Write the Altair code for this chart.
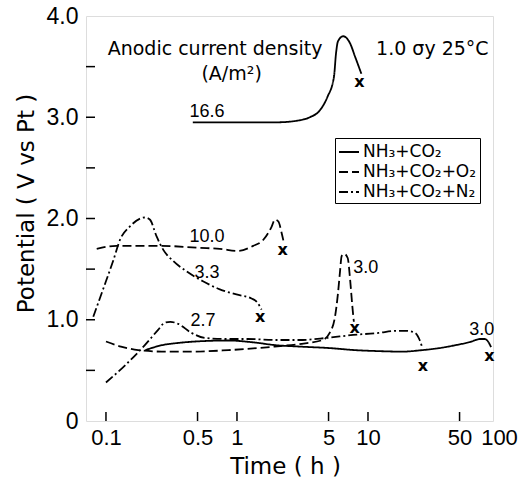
import altair as alt
import pandas as pd

# ---------------- data (time in h, potential in V vs Pt) ----------------
conds = ["NH\u2083+CO\u2082", "NH\u2083+CO\u2082+O\u2082", "NH\u2083+CO\u2082+N\u2082"]

# NH3+CO2, 16.6 A/m2
c166_t = [0.46, 1.0, 2.0, 3.0, 3.6, 4.3, 4.9, 5.5, 5.7, 5.9, 6.46, 7.3, 7.96, 8.9]
c166_v = [2.95, 2.95, 2.95, 2.97, 3.0, 3.07, 3.2, 3.40, 3.63, 3.75, 3.80, 3.73, 3.60, 3.43]

# NH3+CO2, 3.0 A/m2
c30s_t = [0.2, 0.27, 0.35, 0.48, 0.86, 1.37, 1.94, 3.0, 5.1, 8.0, 12.2, 18, 26, 35, 47, 60, 72, 78, 83, 87]
c30s_v = [0.70, 0.75, 0.77, 0.785, 0.795, 0.775, 0.75, 0.735, 0.72, 0.70, 0.69, 0.685, 0.70, 0.72, 0.75, 0.78, 0.81, 0.81, 0.78, 0.73]

# NH3+CO2+O2, 10.0 A/m2
c100_t = [0.085, 0.12, 0.26, 0.52, 0.74, 1.02, 1.33, 1.59, 1.84, 1.95, 2.07, 2.19, 2.28]
c100_v = [1.70, 1.73, 1.73, 1.71, 1.70, 1.68, 1.73, 1.79, 1.92, 1.99, 1.97, 1.86, 1.76]

# NH3+CO2+O2, 3.0 A/m2
c30o_t = [0.1, 0.13, 0.176, 0.266, 0.48, 0.86, 1.94, 3.0, 4.5, 5.1, 5.6, 5.9, 6.1, 6.3, 6.6, 7.0, 7.3, 7.6, 7.8]
c30o_v = [0.785, 0.735, 0.70, 0.686, 0.686, 0.70, 0.735, 0.76, 0.80, 0.87, 1.03, 1.26, 1.46, 1.63, 1.65, 1.61, 1.40, 1.13, 0.98]

# NH3+CO2+N2, 3.3 A/m2
c33_t = [0.08, 0.095, 0.114, 0.128, 0.152, 0.198, 0.216, 0.244, 0.274, 0.326, 0.41, 0.55, 0.74, 0.99, 1.29, 1.41, 1.54]
c33_v = [1.03, 1.30, 1.59, 1.79, 1.92, 2.01, 1.99, 1.82, 1.69, 1.58, 1.48, 1.38, 1.30, 1.25, 1.21, 1.18, 1.10]

# NH3+CO2+N2, 2.7 A/m2
c27_t = [0.1, 0.14, 0.198, 0.25, 0.28, 0.31, 0.355, 0.45, 0.57, 0.8, 1.2, 2.0, 3.0, 4.8, 7.7, 12.1, 16, 19.6, 22.9, 24.8, 25.9]
c27_v = [0.38, 0.55, 0.75, 0.90, 0.97, 0.98, 0.96, 0.87, 0.82, 0.81, 0.81, 0.80, 0.80, 0.82, 0.85, 0.87, 0.89, 0.89, 0.87, 0.80, 0.73]

# rupture ("x") points
x_t = [8.6, 84.5, 2.23, 7.9, 1.5, 26.3]
x_v = [3.35, 0.64, 1.69, 0.92, 1.03, 0.54]

# current density labels
lab_text = ["16.6", "10.0", "3.3", "2.7", "3.0", "3.0"]
lab_t = [0.59, 0.59, 0.59, 0.55, 9.6, 74]
lab_v = [3.05, 1.82, 1.46, 0.99, 1.51, 0.90]

# annotations
note_text = ["Anodic current density", "(A/m\u00b2)", "1.0 \u03c3y  25\u00b0C"]
note_t = [0.68, 0.91, 31.0]
note_v = [3.67, 3.43, 3.67]

# axis ticks
xtick_vals = [0.1, 0.5, 1, 5, 10, 50, 100]
ymajor_vals = [0, 1, 2, 3, 4]
yminor_vals = [0.5, 1.0, 1.5, 2.0, 2.5, 3.0, 3.5]
xminor_vals = [0.1, 0.5, 1, 5, 10, 50]

# ---------------- tables ----------------
curves = [
    ("c166", conds[0], c166_t, c166_v),
    ("c30s", conds[0], c30s_t, c30s_v),
    ("c100", conds[1], c100_t, c100_v),
    ("c30o", conds[1], c30o_t, c30o_v),
    ("c33", conds[2], c33_t, c33_v),
    ("c27", conds[2], c27_t, c27_v),
]
rows = []
for cid, cond, ts, vs in curves:
    for i, (t, v) in enumerate(zip(ts, vs)):
        rows.append({"curve": cid, "cond": cond, "t": t, "v": v, "o": i})
df = pd.DataFrame(rows)

FONT = "DejaVu Sans"
W, H = 407, 405

xscale = alt.Scale(type="log", domain=[0.0704, 100], range=[0, 413])
yscale = alt.Scale(domain=[0, 4], nice=False)

xaxis = alt.Axis(values=xtick_vals, format="~g", ticks=False, grid=False, domain=False,
                 labelFont="Liberation Sans", labelFontSize=22, labelColor="black",
                 labelPadding=6, title="Time ( h )", titleFont=FONT, titleFontSize=23,
                 titleFontWeight="normal", titleColor="black", titleX=199, titleY=45,
                 titleBaseline="middle", labelFlush=False)
yaxis = alt.Axis(values=ymajor_vals, labelExpr="datum.value == 0 ? '0' : format(datum.value, '.1f')",
                 ticks=False, grid=False, domain=False,
                 labelFont="Liberation Sans", labelFontSize=23, labelColor="black",
                 labelPadding=8, title="Potential ( V vs Pt )", titleFont=FONT, titleFontSize=23,
                 titleFontWeight="normal", titleColor="black", titleX=-60, titleY=187,
                 titleBaseline="middle", titleAngle=-90, labelFlush=False)

lines = alt.Chart(df).mark_line(interpolate="monotone", color="black", strokeWidth=1.8).encode(
    x=alt.X("t:Q", scale=xscale, axis=xaxis),
    y=alt.Y("v:Q", scale=yscale, axis=yaxis),
    detail="curve:N",
    order="o:Q",
    strokeDash=alt.StrokeDash(
        "cond:N",
        scale=alt.Scale(domain=conds, range=[[1, 0], [9, 4], [9, 3, 2, 3]]),
        legend=alt.Legend(title=None, orient="none", legendX=249, legendY=122,
                          strokeColor="black", padding=3, fillColor="white",
                          symbolType="stroke", symbolSize=400, symbolStrokeWidth=1.8,
                          symbolStrokeColor="black",
                          labelFont=FONT, labelFontSize=17, labelColor="black",
                          rowPadding=1, labelOffset=3, labelLimit=300),
    ),
)

xdf = pd.DataFrame({"t": x_t, "v": x_v, "s": ["x"] * len(x_t)})
xmarks = alt.Chart(xdf).mark_text(font=FONT, fontSize=16, fontWeight="bold", color="black",
                                  baseline="middle").encode(
    x=alt.X("t:Q", scale=xscale), y=alt.Y("v:Q", scale=yscale), text="s:N")

ldf = pd.DataFrame({"t": lab_t, "v": lab_v, "s": lab_text})
labels = alt.Chart(ldf).mark_text(font="Liberation Sans", fontSize=18, color="black",
                                  baseline="middle").encode(
    x=alt.X("t:Q", scale=xscale), y=alt.Y("v:Q", scale=yscale), text="s:N")

ndf = pd.DataFrame({"t": note_t, "v": note_v, "s": note_text})
notes = alt.Chart(ndf).mark_text(font=FONT, fontSize=19, color="black",
                                 baseline="middle").encode(
    x=alt.X("t:Q", scale=xscale), y=alt.Y("v:Q", scale=yscale), text="s:N")

ytk = alt.Chart(pd.DataFrame({"v": yminor_vals})).mark_rule(color="black", strokeWidth=1.5).encode(
    y=alt.Y("v:Q", scale=yscale), x=alt.value(0), x2=alt.value(9))
xtk = alt.Chart(pd.DataFrame({"t": xminor_vals})).mark_rule(color="black", strokeWidth=1.5).encode(
    x=alt.X("t:Q", scale=xscale), y=alt.value(H), y2=alt.value(H - 9))

chart = alt.layer(ytk, xtk, lines, xmarks, labels, notes).properties(
    width=W, height=H,
    autosize=alt.AutoSizeParams(type="none"),
    padding={"left": 86, "top": 16, "right": 33, "bottom": 58},
).configure_view(stroke="black", strokeWidth=2.2).configure(background="white")

chart.save("out.html", embed_options={"renderer": "svg", "actions": False})
